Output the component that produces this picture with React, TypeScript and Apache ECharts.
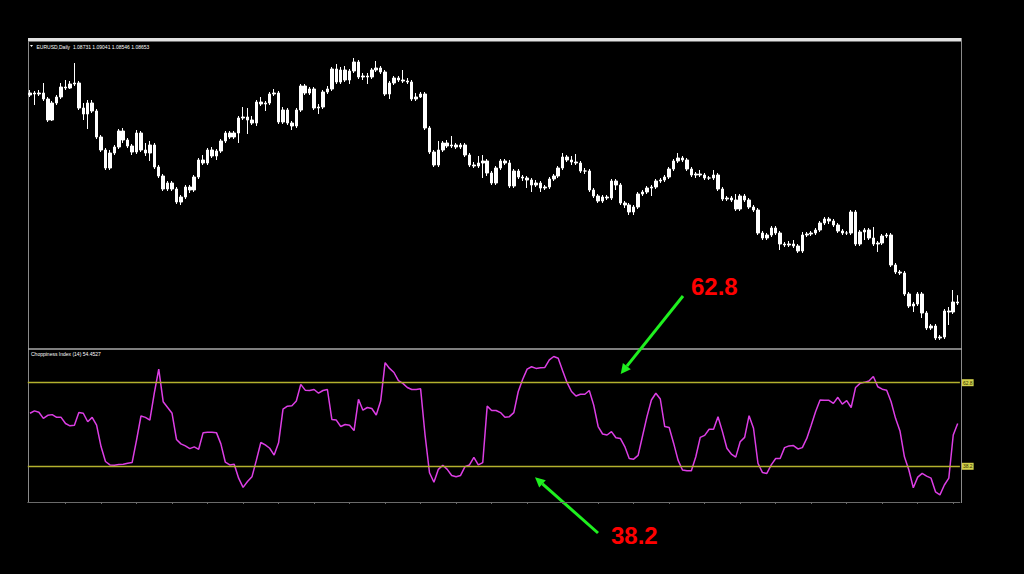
import React, { useEffect, useRef } from "react";
import * as echarts from "echarts";

const symbolTitle = "EURUSD,Daily  1.08731 1.09041 1.08546 1.08653";
const indicatorTitle = "Choppiness Index (14) 54.4527";
const upperNote = "62.8";
const lowerNote = "38.2";
const levels = [62.8, 38.2];
const firstOpen = 1.1905;

const closes = [
  1.1915, 1.1910, 1.1915, 1.1885, 1.1780, 1.1865, 1.1895, 1.1945, 1.1940, 1.1960,
  1.1965, 1.1840, 1.1810, 1.1865, 1.1825, 1.1695, 1.1630, 1.1540, 1.1615, 1.1645,
  1.1725, 1.1680, 1.1650, 1.1620, 1.1715, 1.1630, 1.1615, 1.1655, 1.1545, 1.1500,
  1.1435, 1.1465, 1.1435, 1.1370, 1.1395, 1.1445, 1.1430, 1.1495, 1.1580, 1.1565,
  1.1630, 1.1600, 1.1625, 1.1675, 1.1715, 1.1695, 1.1715, 1.1790, 1.1795, 1.1780,
  1.1765, 1.1870, 1.1860, 1.1865, 1.1910, 1.1915, 1.1770, 1.1830, 1.1765, 1.1750,
  1.1830, 1.1950, 1.1915, 1.1935, 1.1840, 1.1845, 1.1920, 1.1935, 1.2035, 1.1970,
  1.2030, 1.1980, 1.2025, 1.2070, 1.1995, 1.2000, 1.1995, 1.2030, 1.2040, 1.2020,
  1.1910, 1.1965, 1.1990, 1.1980, 1.1975, 1.1970, 1.1885, 1.1895, 1.1910, 1.1740,
  1.1620, 1.1555, 1.1630, 1.1665, 1.1650, 1.1655, 1.1645, 1.1655, 1.1605, 1.1555,
  1.1550, 1.1565, 1.1575, 1.1515, 1.1465, 1.1540, 1.1575, 1.1565, 1.1450, 1.1525,
  1.1495, 1.1490, 1.1480, 1.1455, 1.1465, 1.1440, 1.1445, 1.1485, 1.1500, 1.1540,
  1.1595, 1.1580, 1.1570, 1.1565, 1.1525, 1.1525, 1.1430, 1.1400, 1.1375, 1.1395,
  1.1390, 1.1475, 1.1455, 1.1365, 1.1355, 1.1320, 1.1345, 1.1410, 1.1420, 1.1440,
  1.1445, 1.1475, 1.1480, 1.1495, 1.1535, 1.1575, 1.1590, 1.1580, 1.1535, 1.1505,
  1.1510, 1.1505, 1.1490, 1.1490, 1.1505, 1.1435, 1.1385, 1.1390, 1.1380, 1.1335,
  1.1400, 1.1380, 1.1345, 1.1330, 1.1215, 1.1190, 1.1205, 1.1240, 1.1215, 1.1160,
  1.1155, 1.1160, 1.1150, 1.1125, 1.1205, 1.1210, 1.1215, 1.1230, 1.1265, 1.1285,
  1.1275, 1.1255, 1.1225, 1.1215, 1.1215, 1.1320, 1.1160, 1.1220, 1.1230, 1.1190,
  1.1160, 1.1165, 1.1200, 1.1205, 1.1055, 1.1020, 1.1015, 1.0910, 1.0850, 1.0860,
  1.0910, 1.0815, 1.0740, 1.0750, 1.0690, 1.0695, 1.0825, 1.0820, 1.0870, 1.0865,
];

const highs = [
  1.1930, 1.1925, 1.1930, 1.1965, 1.1895, 1.1875, 1.1905, 1.1965, 1.1980, 1.1975,
  1.2065, 1.1975, 1.1865, 1.1880, 1.1880, 1.1835, 1.1705, 1.1640, 1.1630, 1.1655,
  1.1735, 1.1740, 1.1690, 1.1660, 1.1730, 1.1725, 1.1665, 1.1675, 1.1665, 1.1555,
  1.1510, 1.1475, 1.1475, 1.1445, 1.1405, 1.1455, 1.1455, 1.1505, 1.1590, 1.1605,
  1.1640, 1.1645, 1.1635, 1.1685, 1.1725, 1.1725, 1.1725, 1.1800, 1.1845, 1.1840,
  1.1800, 1.1880, 1.1895, 1.1875, 1.1920, 1.1935, 1.1925, 1.1845, 1.1840, 1.1775,
  1.1840, 1.1960, 1.1960, 1.1945, 1.1945, 1.1860, 1.1930, 1.1950, 1.2045, 1.2060,
  1.2045, 1.2050, 1.2035, 1.2090, 1.2080, 1.2015, 1.2015, 1.2040, 1.2075, 1.2050,
  1.2030, 1.1975, 1.2000, 1.2000, 1.2030, 1.1990, 1.1980, 1.1915, 1.1920, 1.1920,
  1.1750, 1.1630, 1.1675, 1.1675, 1.1680, 1.1700, 1.1665, 1.1665, 1.1665, 1.1615,
  1.1570, 1.1600, 1.1605, 1.1585, 1.1525, 1.1550, 1.1585, 1.1585, 1.1580, 1.1535,
  1.1535, 1.1505, 1.1500, 1.1490, 1.1480, 1.1475, 1.1455, 1.1495, 1.1510, 1.1550,
  1.1615, 1.1605, 1.1600, 1.1610, 1.1575, 1.1540, 1.1535, 1.1440, 1.1410, 1.1405,
  1.1405, 1.1485, 1.1485, 1.1465, 1.1375, 1.1365, 1.1355, 1.1420, 1.1430, 1.1450,
  1.1455, 1.1485, 1.1490, 1.1505, 1.1545, 1.1585, 1.1615, 1.1600, 1.1590, 1.1545,
  1.1520, 1.1530, 1.1515, 1.1500, 1.1530, 1.1515, 1.1445, 1.1400, 1.1400, 1.1410,
  1.1410, 1.1410, 1.1390, 1.1355, 1.1340, 1.1225, 1.1215, 1.1250, 1.1250, 1.1225,
  1.1170, 1.1175, 1.1180, 1.1160, 1.1220, 1.1220, 1.1225, 1.1240, 1.1275, 1.1295,
  1.1295, 1.1285, 1.1265, 1.1235, 1.1225, 1.1330, 1.1330, 1.1230, 1.1240, 1.1240,
  1.1245, 1.1175, 1.1210, 1.1215, 1.1215, 1.1065, 1.1030, 1.1025, 1.0920, 1.0870,
  1.0920, 1.0920, 1.0825, 1.0760, 1.0760, 1.0705, 1.0835, 1.0845, 1.0930, 1.0904,
];

const lows = [
  1.1895, 1.1855, 1.1900, 1.1875, 1.1770, 1.1775, 1.1855, 1.1885, 1.1930, 1.1935,
  1.1950, 1.1830, 1.1780, 1.1735, 1.1815, 1.1685, 1.1620, 1.1530, 1.1530, 1.1605,
  1.1635, 1.1665, 1.1640, 1.1605, 1.1610, 1.1620, 1.1600, 1.1575, 1.1535, 1.1490,
  1.1425, 1.1425, 1.1425, 1.1360, 1.1355, 1.1385, 1.1415, 1.1420, 1.1485, 1.1555,
  1.1555, 1.1590, 1.1580, 1.1615, 1.1665, 1.1685, 1.1685, 1.1665, 1.1780, 1.1710,
  1.1755, 1.1750, 1.1850, 1.1825, 1.1855, 1.1900, 1.1760, 1.1760, 1.1755, 1.1730,
  1.1740, 1.1820, 1.1905, 1.1905, 1.1830, 1.1810, 1.1835, 1.1910, 1.1925, 1.1960,
  1.1960, 1.1970, 1.1960, 1.2015, 1.1985, 1.1980, 1.1960, 1.1985, 1.2020, 1.2010,
  1.1900, 1.1885, 1.1955, 1.1970, 1.1965, 1.1960, 1.1875, 1.1875, 1.1890, 1.1730,
  1.1610, 1.1545, 1.1545, 1.1620, 1.1640, 1.1640, 1.1635, 1.1635, 1.1595, 1.1545,
  1.1540, 1.1540, 1.1490, 1.1500, 1.1455, 1.1455, 1.1530, 1.1555, 1.1440, 1.1440,
  1.1485, 1.1475, 1.1440, 1.1420, 1.1445, 1.1420, 1.1430, 1.1435, 1.1475, 1.1490,
  1.1530, 1.1570, 1.1555, 1.1555, 1.1515, 1.1510, 1.1420, 1.1390, 1.1365, 1.1365,
  1.1380, 1.1380, 1.1430, 1.1355, 1.1340, 1.1305, 1.1305, 1.1335, 1.1400, 1.1410,
  1.1400, 1.1435, 1.1465, 1.1470, 1.1485, 1.1525, 1.1565, 1.1570, 1.1525, 1.1495,
  1.1490, 1.1495, 1.1480, 1.1480, 1.1480, 1.1425, 1.1375, 1.1375, 1.1370, 1.1325,
  1.1325, 1.1370, 1.1335, 1.1320, 1.1205, 1.1180, 1.1180, 1.1195, 1.1205, 1.1130,
  1.1145, 1.1145, 1.1140, 1.1115, 1.1115, 1.1195, 1.1200, 1.1205, 1.1220, 1.1255,
  1.1260, 1.1245, 1.1215, 1.1205, 1.1205, 1.1205, 1.1150, 1.1150, 1.1180, 1.1180,
  1.1150, 1.1120, 1.1155, 1.1190, 1.1045, 1.1010, 1.1005, 1.0900, 1.0840, 1.0820,
  1.0850, 1.0790, 1.0730, 1.0730, 1.0680, 1.0680, 1.0685, 1.0755, 1.0810, 1.0855,
];

const chop = [
  53.8, 54.5, 54.1, 52.3, 53.2, 53.4, 52.6, 52.6, 50.8, 50.1,
  50.3, 54.0, 53.8, 51.3, 52.6, 50.3, 44.0, 39.6, 38.6, 38.5,
  38.7, 38.8, 39.1, 39.3, 45.9, 53.0, 52.6, 51.8, 59.7, 66.8,
  57.2, 55.5, 53.8, 46.1, 44.8, 44.2, 43.4, 43.9, 43.2, 48.1,
  48.2, 48.2, 48.1, 44.8, 39.4, 38.6, 38.8, 34.7, 32.0, 33.7,
  35.1, 40.0, 45.2, 44.5, 43.5, 41.5, 45.1, 55.0, 55.9, 56.0,
  57.4, 62.3, 60.6, 60.5, 60.8, 59.7, 60.5, 60.8, 52.0, 51.8,
  49.9, 50.5, 50.3, 48.7, 57.9, 54.7, 55.5, 55.2, 53.3, 57.4,
  68.7, 67.0, 65.8, 63.4, 62.6, 61.4, 60.8, 60.8, 61.0, 47.4,
  36.3, 33.5, 37.3, 38.5, 37.3, 35.5, 35.1, 35.5, 38.1, 38.6,
  40.8, 38.6, 39.3, 55.9, 54.6, 54.6, 54.0, 52.6, 52.8, 54.0,
  60.2, 63.8, 66.8, 67.5, 67.0, 67.2, 67.3, 69.5, 70.5, 70.0,
  66.3, 62.8, 60.2, 58.9, 59.4, 59.4, 60.5, 56.2, 49.9, 47.7,
  47.4, 48.4, 46.6, 46.4, 44.0, 40.5, 40.3, 41.4, 47.1, 52.8,
  57.7, 59.7, 58.0, 49.9, 49.6, 45.0, 40.0, 37.1, 36.9, 36.9,
  41.0, 46.7, 47.3, 49.1, 49.1, 52.8, 48.4, 43.5, 41.8, 40.9,
  45.4, 46.7, 53.1, 49.4, 39.1, 36.4, 36.1, 38.6, 40.5, 40.5,
  43.7, 44.2, 44.3, 43.3, 43.7, 46.4, 50.3, 54.3, 57.7, 57.6,
  57.6, 56.7, 58.5, 56.5, 57.5, 55.5, 61.4, 62.6, 62.9, 63.3,
  64.6, 61.6, 60.9, 60.6, 57.2, 52.3, 48.6, 41.0, 37.1, 31.9,
  35.0, 36.1, 35.3, 34.7, 30.7, 29.8, 32.7, 34.7, 47.4, 50.8,
];

export default function App() {
  const ref = useRef<HTMLDivElement>(null);

  useEffect(() => {
    if (!ref.current) return;
    const chart = echarts.init(ref.current, null, { renderer: "svg" });
    const opens = closes.map((_, i) => (i === 0 ? firstOpen : closes[i - 1]));
    const candles = closes.map((c, i) => [opens[i], c, lows[i], highs[i]]);
    const cats = closes.map((_, i) => String(i + 1));
    const green = "#1ff01f";
    const arrowW = 3;

    chart.setOption({
      animation: false,
      backgroundColor: "#000000",
      grid: [
        { left: 27.8, width: 932.1, top: 41, height: 307 },
        { left: 27.8, width: 932.1, top: 350, height: 152 },
      ],
      xAxis: [
        {
          type: "category",
          gridIndex: 0,
          data: cats,
          boundaryGap: true,
          axisLine: { show: false },
          axisTick: { show: false },
          axisLabel: { show: false },
          splitLine: { show: false },
        },
        {
          type: "category",
          gridIndex: 1,
          data: cats,
          boundaryGap: true,
          axisLine: { show: true, lineStyle: { color: "#6a6a6a", width: 1 } },
          axisTick: {
            show: true,
            alignWithLabel: true,
            length: 2,
            interval: (i: number) => i > 0 && i % 8 === 0,
            lineStyle: { color: "#6a6a6a" },
          },
          axisLabel: { show: false },
          splitLine: { show: false },
        },
      ],
      yAxis: [
        { type: "value", gridIndex: 0, min: 1.064, max: 1.2175, show: false },
        { type: "value", gridIndex: 1, min: 27.69, max: 72.42, show: false },
      ],
      series: [
        {
          type: "candlestick",
          xAxisIndex: 0,
          yAxisIndex: 0,
          data: candles,
          barWidth: 3,
          itemStyle: {
            color: "#ffffff",
            color0: "#ffffff",
            borderColor: "#ffffff",
            borderColor0: "#ffffff",
            borderWidth: 1,
          },
        },
        {
          type: "line",
          xAxisIndex: 1,
          yAxisIndex: 1,
          data: chop,
          symbol: "none",
          lineStyle: { color: "#dc3ee4", width: 1.5 },
          markLine: {
            silent: true,
            symbol: ["none", "none"],
            lineStyle: { color: "#b3b12e", width: 1.4, type: "solid" },
            label: {
              show: true,
              position: "end",
              distance: 2,
              formatter: (p: any) => String(p.value),
              fontSize: 5,
              fontFamily: "Liberation Sans",
              color: "#333300",
              backgroundColor: "#d2d04a",
              padding: [1, 1],
            },
            data: levels.map((v) => ({ yAxis: v })),
          },
        },
      ],
      graphic: [
        { type: "rect", shape: { x: 28, y: 38, width: 934, height: 3.5 }, style: { fill: "#e2e2e2" } },
        { type: "line", shape: { x1: 28.5, y1: 41, x2: 28.5, y2: 503 }, style: { stroke: "#8a8a8a", lineWidth: 1 } },
        { type: "line", shape: { x1: 961.5, y1: 38, x2: 961.5, y2: 503 }, style: { stroke: "#8a8a8a", lineWidth: 1 } },
        { type: "line", shape: { x1: 28, y1: 349, x2: 962, y2: 349 }, style: { stroke: "#a8a8a8", lineWidth: 1.5 } },
        { type: "polygon", shape: { points: [[30, 45], [33, 45], [31.5, 47]] }, style: { fill: "#ffffff" } },
        {
          type: "text",
          x: 36.5,
          y: 46.5,
          style: {
            text: symbolTitle,
            fill: "#ffffff",
            font: "5px 'Liberation Sans'",
            textVerticalAlign: "middle",
          },
        },
        {
          type: "text",
          x: 31,
          y: 354,
          style: {
            text: indicatorTitle,
            fill: "#ffffff",
            font: "5px 'Liberation Sans'",
            textVerticalAlign: "middle",
          },
        },
        // upper annotation
        { type: "line", shape: { x1: 683, y1: 296, x2: 626.9, y2: 366.1 }, style: { stroke: green, lineWidth: arrowW } },
        { type: "polygon", shape: { points: [[620.7, 374], [630.8, 369.2], [622.9, 363.0]] }, style: { fill: green } },
        {
          type: "text",
          x: 691,
          y: 286,
          style: {
            text: upperNote,
            fill: "#ff0000",
            font: "bold 24px 'Liberation Sans'",
            textVerticalAlign: "middle",
          },
        },
        // lower annotation
        { type: "line", shape: { x1: 598, y1: 533, x2: 542.5, y2: 483.9 }, style: { stroke: green, lineWidth: arrowW } },
        { type: "polygon", shape: { points: [[535, 477.3], [545.8, 480.2], [539.2, 487.6]] }, style: { fill: green } },
        {
          type: "text",
          x: 611,
          y: 535.5,
          style: {
            text: lowerNote,
            fill: "#ff0000",
            font: "bold 24px 'Liberation Sans'",
            textVerticalAlign: "middle",
          },
        },
      ],
    });

    return () => chart.dispose();
  }, []);

  return (
    <div
      ref={ref}
      style={{ position: "fixed", left: 0, top: 0, width: 1024, height: 574, background: "#000" }}
    />
  );
}
